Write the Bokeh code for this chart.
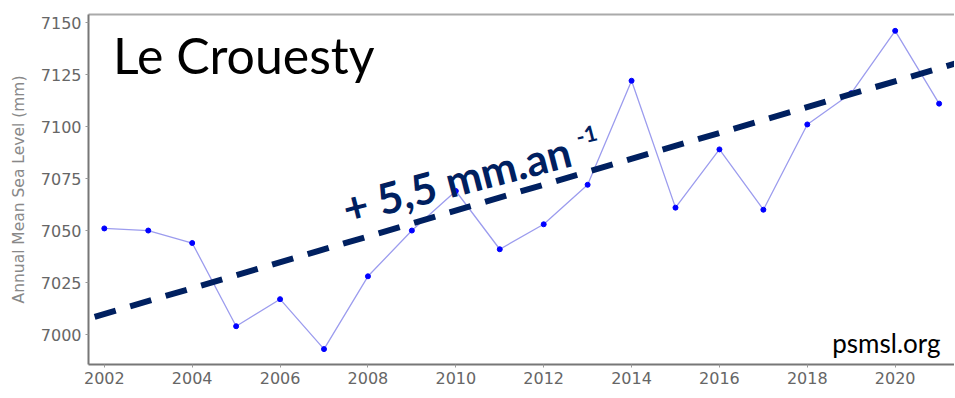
from bokeh.plotting import figure
from bokeh.models import Label, LinearAxis, FixedTicker, Range1d
from bokeh.embed import file_html
from bokeh.resources import INLINE
import math

# ---- data ----
years = [2002, 2003, 2004, 2005, 2006, 2007, 2008, 2009, 2010, 2011,
         2012, 2013, 2014, 2015, 2016, 2017, 2018, 2019, 2020, 2021]
msl = [7051, 7050, 7044, 7004, 7017, 6993, 7028, 7050, 7069, 7041,
       7053, 7072, 7122, 7061, 7089, 7060, 7101, 7116, 7146, 7111]
trend_x = [2001.78, 2021.37]
trend_y = [7008.5, 7130.3]
x_ticks = [2002, 2004, 2006, 2008, 2010, 2012, 2014, 2016, 2018, 2020]
y_ticks = [7000, 7025, 7050, 7075, 7100, 7125, 7150]
title_text = "Le Crouesty"
trend_text = "+ 5,5 mm.an"
trend_sup = "-1"
source_text = "psmsl.org"
y_label = "Annual Mean Sea Level (mm)"

NAVY = "#002060"
TICK_GRAY = "#666666"

p = figure(
    frame_width=866, frame_height=350,
    x_range=Range1d(2001.64, 2021.35), y_range=Range1d(6985.6, 7153.85),
    output_backend="svg", toolbar_location=None,
    min_border_left=88, min_border_right=0, min_border_top=14, min_border_bottom=26,
)
p.background_fill_color = "white"
p.border_fill_color = "white"
p.outline_line_color = None
p.xgrid.grid_line_color = None
p.ygrid.grid_line_color = None

# axes
p.xaxis.ticker = FixedTicker(ticks=x_ticks)
p.yaxis.ticker = FixedTicker(ticks=y_ticks)
for ax in (p.xaxis[0], p.yaxis[0]):
    ax.axis_line_color = "#777777"
    ax.axis_line_width = 2
    ax.major_tick_line_color = "#999999"
    ax.major_tick_out = 3
    ax.major_tick_in = 0
    ax.minor_tick_line_color = None
    ax.major_label_text_color = TICK_GRAY
    ax.major_label_text_font = "DejaVu Sans"
    ax.major_label_text_font_size = "16px"
    ax.major_label_standoff = 4
p.yaxis.axis_label = y_label
p.yaxis.axis_label_text_font = "DejaVu Sans"
p.yaxis.axis_label_text_font_size = "15.5px"
p.yaxis.axis_label_text_font_style = "normal"
p.yaxis.axis_label_text_color = "#888888"
p.yaxis.axis_label_standoff = 10

top_axis = LinearAxis(ticker=FixedTicker(ticks=[]), axis_line_color="#aaaaaa", axis_line_width=2,
                      major_tick_line_color=None, minor_tick_line_color=None,
                      major_label_text_font_size="0px")
p.add_layout(top_axis, "above")

# data series
p.line(years, msl, line_color="#9c9cee", line_width=1.3)
p.scatter(years, msl, size=5, fill_color="#0000ff", line_color="#0000ff")

# trend
p.line(trend_x, trend_y, line_color=NAVY, line_width=6, line_dash="22 15", line_cap="butt")

# texts
p.add_layout(Label(x=2002.2, y=7134.5, text=title_text, text_font="Lato",
                   text_font_size="50px", text_color="black", text_baseline="alphabetic"))
ang = math.radians(14.5)
p.add_layout(Label(x=2007.44, y=7060.5, text=trend_text, text_font="Lato",
                   text_font_size="43px", text_font_style="bold", text_color=NAVY,
                   text_baseline="alphabetic", angle=ang))
p.add_layout(Label(x=2012.74, y=7095.0, text=trend_sup, text_font="Lato",
                   text_font_size="22px", text_font_style="bold", text_color=NAVY,
                   text_baseline="alphabetic", angle=ang))
p.add_layout(Label(x=2021.03, y=6995.7, text=source_text, text_font="Lato",
                   text_font_size="26px", text_color="black", text_align="right",
                   text_baseline="alphabetic"))

open("out.html", "w").write(file_html(p, INLINE))
